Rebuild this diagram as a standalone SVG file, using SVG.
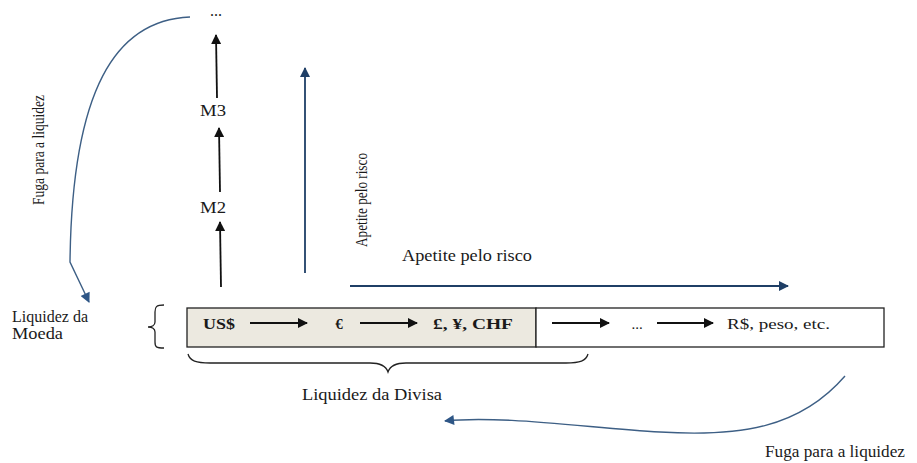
<svg xmlns="http://www.w3.org/2000/svg" width="917" height="463" viewBox="0 0 917 463">
  <defs>
    <marker id="headBlack" viewBox="0 0 10 10" refX="9" refY="5" markerWidth="10" markerHeight="10" markerUnits="userSpaceOnUse" orient="auto">
      <path d="M0,0 L10,5 L0,10 Z" fill="#111"/>
    </marker>
    <marker id="headNavy" viewBox="0 0 10 10" refX="9" refY="5" markerWidth="11" markerHeight="10" markerUnits="userSpaceOnUse" orient="auto">
      <path d="M0,0 L10,5 L0,10 Z" fill="#1f3f66"/>
    </marker>
    <marker id="headBlue" viewBox="0 0 10 10" refX="9" refY="5" markerWidth="12" markerHeight="10" markerUnits="userSpaceOnUse" orient="auto">
      <path d="M0,0 L10,5 L0,10 Z" fill="#2e5686"/>
    </marker>
  </defs>
  <style>
    text { font-family: "Liberation Serif", "Times New Roman", serif; fill: #1a1a1a; }
    .lbl { font-size: 16px; }
    .cur { font-size: 15px; font-weight: bold; }
    .cur2 { font-size: 15px; }
    .blk { stroke: #111; stroke-width: 1.8; fill: none; marker-end: url(#headBlack); }
    .navy { stroke: #1f3f66; stroke-width: 1.8; fill: none; marker-end: url(#headNavy); }
    .curve { stroke: #3d5f85; stroke-width: 1.4; fill: none; marker-end: url(#headBlue); }
    .brace { stroke: #222; stroke-width: 1.3; fill: none; }
  </style>
  <rect width="917" height="463" fill="#fff"/>

  <!-- currency strip -->
  <g id="strip">
    <rect x="187" y="308" width="349" height="39" fill="#ece9e0" stroke="#222" stroke-width="1.3"/>
    <rect x="536" y="308" width="348" height="39" fill="#fff" stroke="#222" stroke-width="1.3"/>
  </g>
  <g id="usd"><text class="cur" x="203" y="329" textLength="32" lengthAdjust="spacingAndGlyphs">US$</text></g>
  <g id="eur"><text class="cur" x="339" y="329" text-anchor="middle">€</text></g>
  <g id="gbp-jpy-chf"><text class="cur" x="433" y="329" textLength="80" lengthAdjust="spacingAndGlyphs">£, ¥, CHF</text></g>
  <g id="ellipsis-mid"><text class="cur2" x="637" y="329" text-anchor="middle">...</text></g>
  <g id="brl"><text class="cur2" x="727" y="329" textLength="103" lengthAdjust="spacingAndGlyphs">R$, peso, etc.</text></g>

  <!-- aggregates column -->
  <g id="m2"><text class="lbl" x="213" y="213" text-anchor="middle" textLength="26" lengthAdjust="spacingAndGlyphs">M2</text></g>
  <g id="m3"><text class="lbl" x="213" y="116" text-anchor="middle" textLength="26" lengthAdjust="spacingAndGlyphs">M3</text></g>
  <g id="more"><text class="lbl" x="216" y="16" text-anchor="middle">...</text></g>

  <!-- side labels -->
  <g id="liquidez-moeda">
    <text class="lbl" x="12" y="322" textLength="76" lengthAdjust="spacingAndGlyphs">Liquidez da</text>
    <text class="lbl" x="12" y="339" textLength="51" lengthAdjust="spacingAndGlyphs">Moeda</text>
    <path class="brace" d="M164,305 C156,305 155,307 155,312 L155,322 C155,325 152,327 148,327 C152,327 155,329 155,332 L155,342 C155,347 156,348 164,348"/>
  </g>
  <g id="liquidez-divisa">
    <path class="brace" d="M188,354 C190,361 196,363 210,363 L370,363 C380,363 386,366 388,372 C390,366 396,363 406,363 L566,363 C580,363 586,361 588,354"/>
    <text class="lbl" x="372" y="400" text-anchor="middle" textLength="140" lengthAdjust="spacingAndGlyphs">Liquidez da Divisa</text>
  </g>
  <g id="apetite-v"><text class="lbl" transform="translate(367,200) rotate(-90)" text-anchor="middle" textLength="94" lengthAdjust="spacingAndGlyphs">Apetite pelo risco</text></g>
  <g id="apetite-h"><text class="lbl" x="467" y="261" text-anchor="middle" textLength="130" lengthAdjust="spacingAndGlyphs">Apetite pelo risco</text></g>
  <g id="fuga-v"><text class="lbl" transform="translate(44,150) rotate(-90)" text-anchor="middle" textLength="110" lengthAdjust="spacingAndGlyphs">Fuga para a liquidez</text></g>
  <g id="fuga-h"><text class="lbl" x="835" y="457" text-anchor="middle" textLength="140" lengthAdjust="spacingAndGlyphs">Fuga para a liquidez</text></g>

  <g id="connectors">
    <!-- strip arrows -->
    <line class="blk" x1="250" y1="323" x2="307" y2="323"/>
    <line class="blk" x1="360" y1="323" x2="417" y2="323"/>
    <line class="blk" x1="552" y1="323" x2="609" y2="323"/>
    <line class="blk" x1="657" y1="323" x2="713" y2="323"/>
    <!-- aggregate arrows -->
    <line class="blk" x1="221" y1="287" x2="220" y2="222"/>
    <line class="blk" x1="220" y1="192" x2="219" y2="128"/>
    <line class="blk" x1="217" y1="98" x2="216" y2="35"/>
    <!-- risk appetite axes -->
    <line class="navy" x1="305" y1="273" x2="305" y2="68"/>
    <line class="navy" x1="350" y1="286" x2="788" y2="286"/>
    <!-- flight to liquidity -->
    <path class="curve" d="M190,17 C115,20 72,90 70,262 L89,302"/>
    <path class="curve" d="M845,376 C800,428 740,437 660,432 C590,428 500,415 445,421"/>
  </g>
</svg>
